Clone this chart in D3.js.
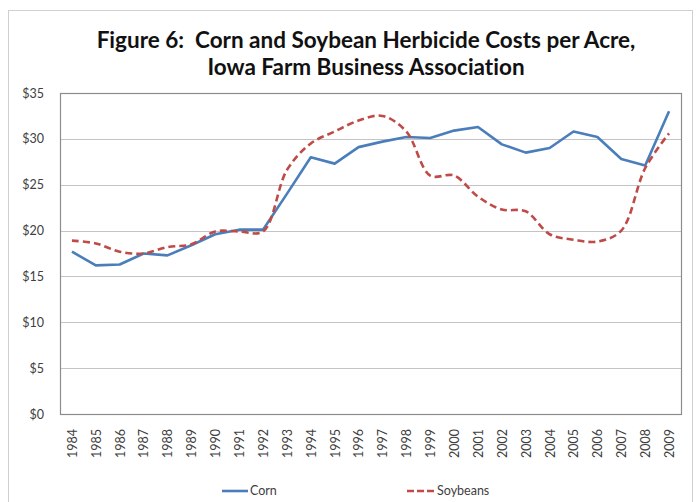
<!DOCTYPE html>
<html><head><meta charset="utf-8">
<script src="https://cdn.jsdelivr.net/npm/d3@7/dist/d3.min.js"></script>
<style>
body{margin:0;background:#fff;}
svg{display:block;font-family:Lato,"Open Sans",sans-serif;font-variant-ligatures:none;font-feature-settings:"liga" 0,"clig" 0;}
</style></head>
<body><svg id="c" width="697" height="502"></svg>
<script>
const years = ["1984","1985","1986","1987","1988","1989","1990","1991","1992","1993","1994","1995","1996","1997","1998","1999","2000","2001","2002","2003","2004","2005","2006","2007","2008","2009"];
const corn = [17.7,16.2,16.3,17.5,17.3,18.4,19.6,20.1,20.1,24.0,28.0,27.3,29.1,29.7,30.2,30.1,30.9,31.3,29.4,28.5,29.0,30.8,30.2,27.8,27.1,33.0];
const soybeans = [18.9,18.6,17.7,17.5,18.2,18.5,19.9,19.9,19.9,26.6,29.5,30.8,32.0,32.5,30.8,26.0,26.0,23.7,22.3,22.1,19.6,19.0,18.8,20.0,26.8,30.6];
const yTicks = [0,5,10,15,20,25,30,35];
const seriesNames = ["Corn","Soybeans"];
const titleLines = ["Figure 6:\u00a0 Corn and Soybean Herbicide Costs per Acre,","Iowa Farm Business Association"];

const svg = d3.select("#c");
const colors = {Corn:"#4a7ebb", Soybeans:"#be4b48"};

// outer chart border
svg.append("rect").attr("x",8.5).attr("y",10.5).attr("width",684).attr("height",500)
  .attr("fill","#fff").attr("stroke","#d0d0d0").attr("stroke-width",1);

const L=60, R=681, T=93, B=414;
const x = d3.scalePoint().domain(years).range([L,R]).padding(0.5);
const y = d3.scaleLinear().domain([0,35]).range([B,T]);

// gridlines
svg.append("g").selectAll("line").data(yTicks).join("line")
  .attr("x1",L).attr("x2",R).attr("y1",d=>Math.round(y(d))+0.5).attr("y2",d=>Math.round(y(d))+0.5)
  .attr("stroke","#c4c4c4").attr("stroke-width",1.2);

// plot border
svg.append("rect").attr("x",L+0.5).attr("y",T+0.5).attr("width",R-L).attr("height",B-T)
  .attr("fill","none").attr("stroke","#8c8c8c").attr("stroke-width",1.2);

// y axis
const yAxis = d3.axisLeft(y).tickValues(yTicks).tickSize(0).tickPadding(0).tickFormat(d=>"$"+d);
const gy = svg.append("g").attr("transform",`translate(${L-16},0)`).call(yAxis);
gy.select(".domain").remove();
gy.selectAll("text").attr("font-size",12.5).attr("fill","#404040").attr("font-family","Lato,sans-serif");

// x axis
const xAxis = d3.axisBottom(x).tickSize(0).tickPadding(0);
const gx = svg.append("g").attr("transform",`translate(0,${B})`).call(xAxis);
gx.select(".domain").remove();
gx.selectAll("text").attr("font-size",12.5).attr("fill","#404040").attr("font-family","Lato,sans-serif")
  .attr("transform","rotate(-90)").attr("text-anchor","end").attr("x",-15).attr("y",0).attr("dy","0.35em");

// lines
const lineStraight = d3.line().x((d,i)=>x(years[i])).y(d=>y(d));
const lineSmooth = d3.line().x((d,i)=>x(years[i])).y(d=>y(d)).curve(d3.curveCatmullRom.alpha(0.5));
svg.append("path").datum(corn).attr("d",lineStraight).attr("fill","none")
  .attr("stroke",colors.Corn).attr("stroke-width",2.6).attr("stroke-linejoin","round");
svg.append("path").datum(soybeans).attr("d",lineSmooth).attr("fill","none")
  .attr("stroke",colors.Soybeans).attr("stroke-width",2.6).attr("stroke-dasharray","7,4");

// title
const title = svg.append("g");
const titleY = [48,75];
titleLines.forEach((t,i)=>{
  title.append("text").attr("x",366).attr("y",titleY[i]).attr("text-anchor","middle")
    .attr("font-size",22.5).attr("font-weight","bold").attr("fill","#111").text(t);
});

// legend
const legendY = 491;
const leg = [{name:"Corn",x1:222,x2:248,dash:null},{name:"Soybeans",x1:407,x2:435,dash:"7,3"}];
leg.forEach(l=>{
  svg.append("line").attr("x1",l.x1).attr("x2",l.x2).attr("y1",legendY).attr("y2",legendY)
    .attr("stroke",colors[l.name]).attr("stroke-width",2.6).attr("stroke-dasharray",l.dash);
  svg.append("text").attr("x",l.x2+2).attr("y",legendY).attr("dy","0.35em")
    .attr("font-size",12.5).attr("fill","#404040").text(l.name);
});
</script></body></html>
